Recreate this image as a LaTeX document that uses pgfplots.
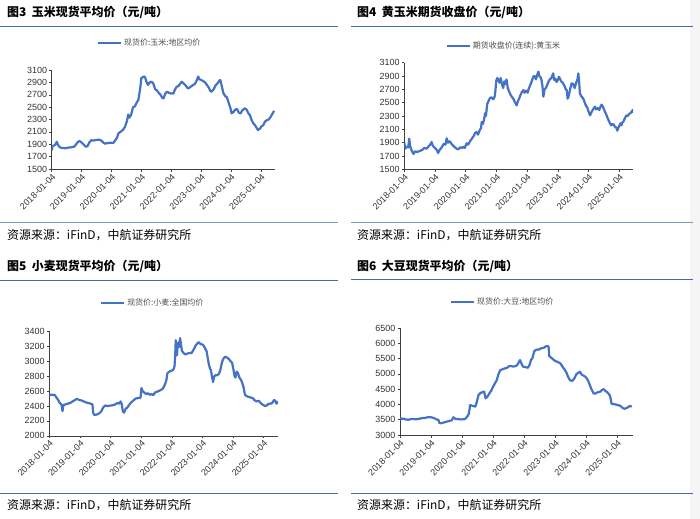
\documentclass[border=0pt]{standalone}
\usepackage{fontspec}
\setmainfont{Liberation Sans}
\newfontfamily\cjk{Noto Sans CJK SC}
\usepackage{pgfplots}
\pgfplotsset{compat=1.18}
\definecolor{lineblue}{HTML}{4472C4}
\definecolor{rulecol}{HTML}{3F6DB5}
\pgfplotsset{panel/.style={
  scale only axis,
  axis x line*=bottom, axis y line*=left,
  axis line style={black!75, line width=0.6bp, -},
  tick style={black!75, line width=0.5bp},
  major tick length=2.5bp,
  tick align=outside,
  xmin=2018, xtick={2018,...,2025},
  xticklabels={2018-01-04,2019-01-04,2020-01-04,2021-01-04,2022-01-04,2023-01-04,2024-01-04,2025-01-04},
  x tick label style={rotate=45, anchor=north east, font=\fontsize{9}{10}\selectfont, text=black!80, inner sep=1bp},
  y tick label style={font=\fontsize{9}{10}\selectfont, text=black!80, inner sep=2bp},
  /pgf/number format/1000 sep={}, /pgf/number format/assume math mode=true,
  legend style={draw=none, fill=none, anchor=west, font=\cjk\fontsize{8}{9}\selectfont, text=black!70, inner sep=0pt},
  legend image code/.code={\draw[lineblue, line width=2bp] (0bp,0bp) -- (23bp,0bp);},
  cycle list={{lineblue, mark=none}},
  every axis plot/.append style={line width=2.2bp, line join=round},
}}
\begin{document}
\begin{tikzpicture}
\useasboundingbox (0,0) rectangle (700bp,-519bp);
\fill[black!4] (690bp,0) rectangle (700bp,-519bp);
% titles and rules
\node[anchor=west, inner sep=0pt, font=\cjk\bfseries\fontsize{12}{14}\selectfont] at (7bp,-12bp) {图3\ \ 玉米现货平均价（元/吨）};
\node[anchor=west, inner sep=0pt, font=\cjk\bfseries\fontsize{12}{14}\selectfont] at (357bp,-12bp) {图4\ \ 黄玉米期货收盘价（元/吨）};
\node[anchor=west, inner sep=0pt, font=\cjk\bfseries\fontsize{12}{14}\selectfont] at (7bp,-266.5bp) {图5\ \ 小麦现货平均价（元/吨）};
\node[anchor=west, inner sep=0pt, font=\cjk\bfseries\fontsize{12}{14}\selectfont] at (357bp,-266.5bp) {图6\ \ 大豆现货平均价（元/吨）};
\draw[rulecol, line width=1bp] (0bp,-26bp) -- (338bp,-26bp);
\draw[rulecol, line width=1bp] (351bp,-26bp) -- (693bp,-26bp);
\draw[rulecol, line width=1bp] (0bp,-280bp) -- (338bp,-280bp);
\draw[rulecol, line width=1bp] (351bp,-279.5bp) -- (693bp,-279.5bp);
\draw[rulecol!70, line width=1bp] (0bp,-222.5bp) -- (338bp,-222.5bp);
\draw[rulecol!70, line width=1bp] (351bp,-222bp) -- (693bp,-222bp);
\draw[rulecol, line width=1bp] (0bp,-493.5bp) -- (338bp,-493.5bp);
\draw[rulecol, line width=1bp] (351bp,-493.5bp) -- (693bp,-493.5bp);
\node[anchor=west, inner sep=0pt, font=\cjk\fontsize{12}{14}\selectfont] at (7bp,-235bp) {资源来源：iFinD，中航证券研究所};
\node[anchor=west, inner sep=0pt, font=\cjk\fontsize{12}{14}\selectfont] at (357bp,-235bp) {资源来源：iFinD，中航证券研究所};
\node[anchor=west, inner sep=0pt, font=\cjk\fontsize{12}{14}\selectfont] at (7bp,-505bp) {资源来源：iFinD，中航证券研究所};
\node[anchor=west, inner sep=0pt, font=\cjk\fontsize{12}{14}\selectfont] at (357bp,-505bp) {资源来源：iFinD，中航证券研究所};

% Panel 1: corn spot
\begin{axis}[panel, at={(51.7bp,-169bp)}, anchor=south west,
  width=223.3bp, height=99bp, xmax=2025.47,
  ymin=1500, ymax=3100, ytick={1500,1700,...,3100},
  legend style={at={(axis description cs:0.203,1.273)}}]
\addplot coordinates {
(2018.00,1800) (2018.03,1870) (2018.08,1880) (2018.13,1900) (2018.17,1940) (2018.21,1890)
(2018.27,1850) (2018.35,1840) (2018.45,1835) (2018.55,1845) (2018.65,1850) (2018.75,1860)
(2018.82,1900) (2018.88,1940) (2018.93,1950) (2019.00,1930) (2019.08,1890) (2019.14,1860)
(2019.20,1870) (2019.26,1930) (2019.32,1965) (2019.40,1960) (2019.50,1970) (2019.58,1975)
(2019.66,1960) (2019.72,1930) (2019.78,1910) (2019.88,1920) (2019.98,1925) (2020.06,1920)
(2020.12,1960) (2020.18,2000) (2020.23,2075) (2020.30,2100) (2020.38,2130) (2020.45,2180)
(2020.52,2280) (2020.56,2380) (2020.60,2330) (2020.66,2380) (2020.72,2500) (2020.78,2510)
(2020.84,2570) (2020.90,2620) (2020.96,2800) (2021.00,2970) (2021.06,2990) (2021.12,2990)
(2021.16,2920) (2021.22,2860) (2021.28,2900) (2021.34,2910) (2021.40,2880) (2021.46,2790)
(2021.52,2770) (2021.58,2730) (2021.64,2700) (2021.70,2650) (2021.74,2640) (2021.80,2720)
(2021.86,2750) (2021.92,2730) (2022.00,2720) (2022.07,2720) (2022.12,2780) (2022.18,2830)
(2022.24,2840) (2022.30,2880) (2022.35,2910) (2022.42,2880) (2022.48,2850) (2022.56,2800)
(2022.62,2820) (2022.68,2840) (2022.74,2860) (2022.80,2880) (2022.86,2940) (2022.90,2995)
(2022.94,2950) (2023.00,2940) (2023.07,2920) (2023.13,2900) (2023.19,2860) (2023.25,2820)
(2023.31,2760) (2023.35,2750) (2023.42,2790) (2023.48,2850) (2023.54,2880) (2023.60,2920)
(2023.64,2940) (2023.69,2840) (2023.74,2730) (2023.80,2680) (2023.86,2660) (2023.92,2570)
(2023.98,2480) (2024.02,2400) (2024.08,2420) (2024.14,2460) (2024.20,2470) (2024.26,2410)
(2024.32,2400) (2024.38,2450) (2024.46,2480) (2024.52,2460) (2024.58,2400) (2024.63,2370)
(2024.68,2300) (2024.74,2240) (2024.80,2210) (2024.86,2160) (2024.90,2130) (2024.96,2150)
(2025.02,2190) (2025.08,2210) (2025.14,2270) (2025.20,2290) (2025.26,2300) (2025.32,2340)
(2025.38,2390) (2025.44,2440)};
\addlegendentry{现货价:玉米:地区均价}
\end{axis}

% Panel 2: corn futures
\begin{axis}[panel, at={(404.3bp,-169.3bp)}, anchor=south west,
  width=228.7bp, height=106.6bp, xmax=2025.45,
  ymin=1500, ymax=3100, ytick={1500,1700,...,3100},
  legend style={at={(axis description cs:0.181,1.16)}}]
\addplot coordinates {
(2018.00,1900) (2018.03,1810) (2018.08,1840) (2018.13,1830) (2018.16,1960) (2018.19,1850)
(2018.24,1780) (2018.30,1730) (2018.35,1770) (2018.42,1760) (2018.50,1775) (2018.58,1790)
(2018.65,1820) (2018.73,1810) (2018.80,1850) (2018.86,1880) (2018.89,1910) (2018.93,1850)
(2019.00,1820) (2019.06,1790) (2019.10,1745) (2019.15,1790) (2019.22,1830) (2019.28,1880)
(2019.34,1870) (2019.38,1965) (2019.42,1900) (2019.48,1920) (2019.54,1880) (2019.60,1850)
(2019.65,1830) (2019.70,1810) (2019.76,1800) (2019.82,1830) (2019.88,1820) (2019.92,1840)
(2019.97,1820) (2020.03,1890) (2020.08,1870) (2020.14,1920) (2020.20,1960) (2020.26,2000)
(2020.30,2040) (2020.35,2060) (2020.40,2020) (2020.45,2080) (2020.50,2120) (2020.52,2210)
(2020.56,2180) (2020.60,2250) (2020.63,2340) (2020.66,2300) (2020.70,2480) (2020.75,2530)
(2020.79,2570) (2020.84,2580) (2020.90,2550) (2020.95,2600) (2021.00,2840) (2021.03,2870)
(2021.06,2850) (2021.10,2800) (2021.14,2870) (2021.18,2780) (2021.22,2720) (2021.26,2820)
(2021.30,2780) (2021.33,2850) (2021.37,2720) (2021.42,2660) (2021.46,2620) (2021.50,2590)
(2021.55,2560) (2021.60,2510) (2021.66,2460) (2021.70,2520) (2021.74,2560) (2021.77,2600)
(2021.82,2650) (2021.88,2690) (2021.92,2650) (2021.97,2680) (2022.02,2650) (2022.06,2720)
(2022.10,2760) (2022.15,2820) (2022.20,2890) (2022.24,2900) (2022.29,2850) (2022.33,2920)
(2022.37,2965) (2022.40,2900) (2022.44,2880) (2022.47,2840) (2022.50,2750) (2022.53,2590)
(2022.57,2700) (2022.61,2720) (2022.64,2750) (2022.69,2810) (2022.74,2850) (2022.79,2870)
(2022.85,2940) (2022.88,2840) (2022.92,2860) (2022.96,2810) (2023.00,2840) (2023.04,2890)
(2023.07,2860) (2023.11,2820) (2023.16,2800) (2023.21,2760) (2023.26,2700) (2023.29,2690)
(2023.32,2560) (2023.35,2590) (2023.40,2700) (2023.45,2790) (2023.50,2780) (2023.55,2720)
(2023.60,2800) (2023.64,2850) (2023.67,2940) (2023.70,2780) (2023.72,2640) (2023.76,2600)
(2023.80,2580) (2023.83,2560) (2023.88,2500) (2023.92,2450) (2023.96,2430) (2024.00,2370)
(2024.05,2310) (2024.10,2360) (2024.15,2400) (2024.21,2440) (2024.25,2400) (2024.30,2420)
(2024.35,2390) (2024.40,2450) (2024.43,2470) (2024.47,2440) (2024.51,2390) (2024.55,2350)
(2024.59,2310) (2024.63,2260) (2024.67,2220) (2024.70,2190) (2024.74,2160) (2024.78,2180)
(2024.82,2170) (2024.86,2140) (2024.90,2130) (2024.94,2080) (2024.97,2120) (2025.00,2150)
(2025.04,2190) (2025.07,2160) (2025.10,2200) (2025.13,2210) (2025.17,2250) (2025.21,2290)
(2025.24,2310) (2025.28,2300) (2025.32,2330) (2025.36,2340) (2025.40,2360) (2025.44,2390)
(2025.46,2350)};
\addlegendentry{期货收盘价(连续):黄玉米}
\end{axis}

% Panel 3: wheat spot
\begin{axis}[panel, at={(49.3bp,-435.8bp)}, anchor=south west,
  width=228.7bp, height=104.5bp, xmax=2025.47,
  ymin=2000, ymax=3400, ytick={2000,2200,...,3400},
  legend style={at={(axis description cs:0.222,1.274)}}]
\addplot coordinates {
(2018.00,2550) (2018.10,2550) (2018.18,2545) (2018.24,2510) (2018.29,2480) (2018.34,2440)
(2018.40,2420) (2018.43,2330) (2018.46,2410) (2018.52,2420) (2018.60,2430) (2018.68,2440)
(2018.76,2460) (2018.84,2480) (2018.90,2495) (2018.98,2480) (2019.08,2470) (2019.18,2450)
(2019.26,2440) (2019.36,2430) (2019.41,2420) (2019.43,2310) (2019.47,2280) (2019.55,2285)
(2019.63,2300) (2019.70,2330) (2019.76,2380) (2019.82,2405) (2019.90,2400) (2020.00,2405)
(2020.08,2410) (2020.15,2420) (2020.22,2440) (2020.28,2430) (2020.33,2460) (2020.37,2420)
(2020.40,2330) (2020.44,2310) (2020.49,2360) (2020.55,2380) (2020.62,2420) (2020.68,2450)
(2020.74,2470) (2020.82,2500) (2020.90,2505) (2020.98,2510) (2021.01,2640) (2021.05,2600)
(2021.10,2580) (2021.16,2560) (2021.22,2570) (2021.28,2550) (2021.34,2560) (2021.40,2545)
(2021.45,2580) (2021.52,2590) (2021.60,2605) (2021.67,2620) (2021.72,2640) (2021.78,2690)
(2021.82,2740) (2021.86,2840) (2021.92,2860) (2021.98,2870) (2022.05,2885) (2022.09,2930)
(2022.11,3060) (2022.13,3280) (2022.15,3200) (2022.17,3080) (2022.19,3200) (2022.22,3250)
(2022.24,3190) (2022.27,3310) (2022.30,3230) (2022.33,3140) (2022.38,3110) (2022.44,3090)
(2022.50,3100) (2022.58,3110) (2022.65,3110) (2022.72,3160) (2022.78,3210) (2022.84,3240)
(2022.88,3255) (2022.94,3230) (2023.02,3220) (2023.08,3180) (2023.14,3130) (2023.18,3030)
(2023.21,2960) (2023.25,2900) (2023.28,2880) (2023.31,2800) (2023.35,2720) (2023.38,2790)
(2023.42,2810) (2023.48,2810) (2023.54,2830) (2023.58,2870) (2023.62,2950) (2023.66,3010)
(2023.70,3040) (2023.75,3060) (2023.80,3050) (2023.86,3030) (2023.92,3000) (2023.97,2980)
(2024.01,2900) (2024.05,2800) (2024.08,2780) (2024.12,2860) (2024.16,2840) (2024.21,2780)
(2024.26,2750) (2024.31,2700) (2024.35,2640) (2024.39,2550) (2024.45,2530) (2024.52,2520)
(2024.60,2510) (2024.66,2500) (2024.72,2470) (2024.78,2460) (2024.84,2470) (2024.90,2440)
(2024.96,2420) (2025.04,2400) (2025.10,2405) (2025.16,2430) (2025.22,2430) (2025.28,2440)
(2025.34,2480) (2025.38,2470) (2025.42,2430) (2025.47,2460)};
\addlegendentry{现货价:小麦:全国均价}
\end{axis}

% Panel 4: soybean spot
\begin{axis}[panel, at={(400bp,-435bp)}, anchor=south west,
  width=232.7bp, height=107bp, xmax=2025.5,
  ymin=3000, ymax=6500, ytick={3000,3500,...,6500},
  legend style={at={(axis description cs:0.215,1.24)}}]
\addplot coordinates {
(2018.00,3560) (2018.05,3530) (2018.12,3530) (2018.18,3510) (2018.27,3500) (2018.35,3520)
(2018.45,3520) (2018.54,3515) (2018.62,3530) (2018.70,3550) (2018.80,3560) (2018.90,3580)
(2018.97,3585) (2019.04,3570) (2019.10,3550) (2019.18,3510) (2019.24,3490) (2019.27,3390)
(2019.32,3385) (2019.40,3405) (2019.48,3430) (2019.56,3450) (2019.61,3470) (2019.66,3470)
(2019.72,3580) (2019.78,3530) (2019.86,3520) (2019.96,3510) (2020.06,3515) (2020.12,3540)
(2020.18,3620) (2020.22,3700) (2020.26,3980) (2020.32,3960) (2020.38,3940) (2020.43,3930)
(2020.48,4100) (2020.53,4310) (2020.60,4380) (2020.66,4400) (2020.71,4420) (2020.76,4200)
(2020.82,4260) (2020.88,4360) (2020.94,4450) (2021.00,4580) (2021.06,4690) (2021.12,4800)
(2021.17,4980) (2021.23,5120) (2021.30,5150) (2021.38,5180) (2021.44,5190) (2021.50,5240)
(2021.56,5260) (2021.64,5240) (2021.72,5250) (2021.78,5290) (2021.84,5400) (2021.87,5450)
(2021.91,5350) (2021.96,5240) (2022.04,5220) (2022.12,5200) (2022.18,5300) (2022.22,5450)
(2022.27,5520) (2022.33,5750) (2022.40,5790) (2022.48,5800) (2022.56,5840) (2022.63,5850)
(2022.70,5900) (2022.76,5910) (2022.79,5880) (2022.81,5580) (2022.86,5540) (2022.93,5480)
(2023.00,5420) (2023.06,5400) (2023.12,5370) (2023.18,5330) (2023.24,5230) (2023.30,5150)
(2023.36,5050) (2023.42,4900) (2023.48,4790) (2023.55,4770) (2023.62,4850) (2023.68,4980)
(2023.74,5030) (2023.80,5070) (2023.86,4970) (2023.92,4940) (2023.98,4900) (2024.03,4840)
(2024.08,4740) (2024.13,4600) (2024.18,4480) (2024.24,4360) (2024.30,4360) (2024.38,4400)
(2024.46,4420) (2024.52,4480) (2024.57,4500) (2024.62,4440) (2024.68,4400) (2024.73,4340)
(2024.77,4280) (2024.82,4020) (2024.90,4010) (2024.98,3990) (2025.06,3970) (2025.12,3940)
(2025.18,3880) (2025.24,3860) (2025.30,3880) (2025.36,3920) (2025.42,3950) (2025.47,3930)};
\addlegendentry{现货价:大豆:地区均价}
\end{axis}
\end{tikzpicture}
\end{document}
